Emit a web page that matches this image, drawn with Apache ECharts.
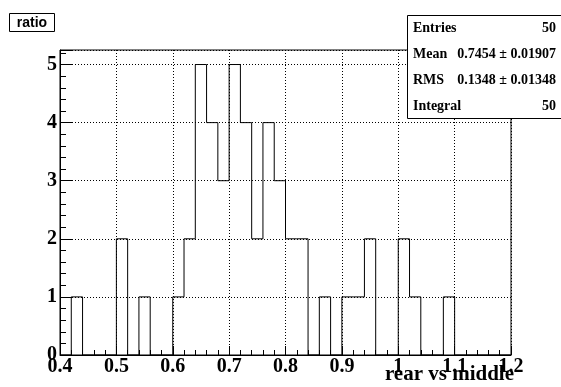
<!DOCTYPE html>
<html>
<head>
<meta charset="utf-8">
<script src="https://cdn.jsdelivr.net/npm/echarts@6/dist/echarts.min.js"></script>
<style>
  html, body { margin: 0; padding: 0; background: #fff; }
  #hist { width: 561px; height: 387px; }
</style>
</head>
<body>
<div id="hist"></div>
<script>
// histogram "ratio": 40 bins of 0.02 from 0.4 to 1.2
const xRange = [0.4, 1.2];
const binCounts = [
  0, 1, 0, 0, 0, 2, 0, 1, 0, 0,
  1, 2, 5, 4, 3, 5, 4, 2, 4, 3,
  2, 2, 0, 1, 0, 1, 1, 2, 0, 0,
  2, 1, 0, 0, 1, 0, 0, 0, 0, 0
];
const statNames = ["Entries", "Mean", "RMS", "Integral"];
const statValues = ["50", "0.7454 \u00b1 0.01907", "0.1348 \u00b1 0.01348", "50"];
const histTitle = "ratio";
const xTitle = "rear vs middle";

const binWidth = (xRange[1] - xRange[0]) / binCounts.length;
const stepData = [];
for (let i = 0; i < binCounts.length; i++) {
  stepData.push([+(xRange[0] + i * binWidth).toFixed(4), binCounts[i]]);
}
stepData.push([xRange[1], binCounts[binCounts.length - 1]]);

const serif = "'Liberation Serif', 'Times New Roman', serif";
const sans = "'Liberation Sans', Arial, sans-serif";

var chartDom = document.getElementById("hist");
var myChart = echarts.init(chartDom);

const statsText = [];
for (let i = 0; i < statNames.length; i++) {
  const y = 28 + i * 26;
  statsText.push({
    type: "text", left: null, x: 413, y: y, z: 101,
    style: { text: statNames[i], font: "bold 14px " + serif, fill: "#000",
      textAlign: "left", textVerticalAlign: "middle" }
  });
  statsText.push({
    type: "text", x: 556, y: y, z: 101,
    style: { text: statValues[i], font: "bold 14px " + serif, fill: "#000",
      textAlign: "right", textVerticalAlign: "middle" }
  });
}

var option = {
  animation: false,
  backgroundColor: "#fff",
  grid: {
    left: 60, right: 50, top: 50, bottom: 32,
    show: true, borderColor: "#000", borderWidth: 1
  },
  xAxis: {
    type: "value",
    min: xRange[0], max: xRange[1], interval: 0.1,
    axisLine: { show: true, onZero: false, lineStyle: { color: "#000", width: 1 } },
    axisTick: { show: true, inside: true, length: 9, lineStyle: { color: "#000" } },
    minorTick: { show: true, splitNumber: 5, length: 5, lineStyle: { color: "#000" } },
    splitLine: { show: true, lineStyle: { color: "#000", type: [1, 2], width: 1 } },
    axisLabel: {
      margin: 2, color: "#000", fontFamily: serif, fontWeight: "bold", fontSize: 20
    }
  },
  yAxis: {
    type: "value",
    min: 0, max: 5.25, interval: 1,
    axisLine: { show: true, lineStyle: { color: "#000", width: 1 } },
    axisTick: { show: true, inside: true, length: 12, lineStyle: { color: "#000" } },
    minorTick: { show: true, splitNumber: 5, length: 6, lineStyle: { color: "#000" } },
    splitLine: { show: true, lineStyle: { color: "#000", type: [1, 2], width: 1 } },
    axisLabel: {
      margin: 3, color: "#000", fontFamily: serif, fontWeight: "bold", fontSize: 20,
      formatter: function (v) { return Number.isInteger(v) ? String(v) : ""; }
    }
  },
  graphic: [
    {
      type: "rect", z: 100,
      shape: { x: 9.5, y: 13.5, width: 45, height: 18 },
      style: { fill: "#fff", stroke: "#000", lineWidth: 1 }
    },
    {
      type: "text", x: 32, y: 23, z: 101,
      style: { text: histTitle, font: "bold 14px " + sans, fill: "#000",
        textAlign: "center", textVerticalAlign: "middle" }
    },
    {
      type: "rect", z: 100,
      shape: { x: 407.5, y: 15.5, width: 170, height: 103 },
      style: { fill: "#fff", stroke: "#000", lineWidth: 1 }
    },
    ...statsText,
    {
      type: "text", x: 514, y: 375, z: 101,
      style: { text: xTitle, font: "bold 21px " + serif, fill: "#000",
        textAlign: "right", textVerticalAlign: "middle" }
    }
  ],
  series: [
    {
      type: "line",
      step: "end",
      showSymbol: false,
      symbol: "none",
      lineStyle: { color: "#000", width: 1 },
      data: stepData
    }
  ]
};

option && myChart.setOption(option);
</script>
</body>
</html>
